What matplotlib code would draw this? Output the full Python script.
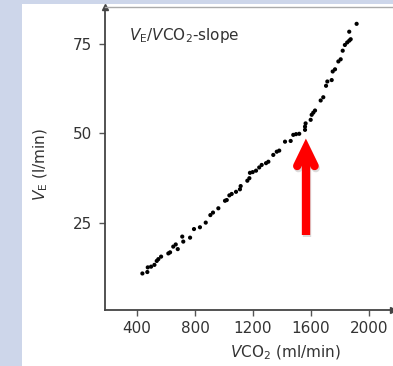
import matplotlib
matplotlib.use("Agg")
import matplotlib.pyplot as plt
from matplotlib.patches import Rectangle

# breath-by-breath ventilation vs CO2 output
vco2 = [437, 471, 474, 497, 520, 536, 547, 566, 616, 628, 650, 667, 681, 712, 719,
        766, 793, 834, 874, 906, 924, 961, 1007, 1019, 1037, 1053, 1083, 1110, 1115,
        1161, 1175, 1179, 1198, 1221, 1243, 1260, 1290, 1306, 1340, 1364, 1381, 1421,
        1460, 1478, 1497, 1519, 1559, 1559, 1563, 1598, 1605, 1616, 1628, 1667, 1685,
        1704, 1713, 1743, 1750, 1766, 1789, 1805, 1819, 1834, 1850, 1864, 1874, 1864,
        1915]
ve = [10.9, 11.3, 12.6, 12.8, 13.3, 14.4, 14.9, 15.6, 16.5, 16.8, 18.4, 19.0, 17.7,
      21.2, 19.8, 20.9, 23.3, 23.8, 25.1, 27.2, 27.9, 29.1, 31.2, 31.4, 32.7, 33.1,
      33.7, 34.4, 35.3, 36.8, 37.5, 39.0, 39.2, 39.6, 40.5, 41.2, 41.7, 42.1, 44.0,
      44.9, 45.2, 47.7, 47.9, 49.6, 49.8, 49.9, 51.0, 51.9, 52.8, 53.8, 55.2, 55.8,
      56.4, 59.2, 60.1, 63.3, 64.5, 64.9, 67.3, 67.9, 70.1, 70.7, 73.1, 74.7, 75.4,
      75.9, 76.3, 78.4, 80.6]

x_ticks = [400, 800, 1200, 1600, 2000]
y_ticks = [25, 50, 75]

# breakpoint arrow: x position, tip and tail heights
thr_x = 1565
thr_tip, thr_tail = 45.9, 21.6

plt.rcParams.update({
    "font.family": "DejaVu Sans",
    "mathtext.fontset": "dejavusans",
})

fig = plt.figure(figsize=(3.93, 3.66), dpi=100)
fig.patch.set_facecolor("#cdd6ea")
fig.patches.append(Rectangle((22 / 393, 0), 1, 1 - 4 / 366, transform=fig.transFigure,
                             facecolor="white", edgecolor="none", zorder=-10))

ax = fig.add_axes([105 / 393, 1 - 310 / 366, 288 / 393, 303 / 366])
ax.set_facecolor("none")
ax.scatter(vco2, ve, s=9, color="black", edgecolors="none", zorder=3)

ax.set_xlim(179, 2166)
ax.set_ylim(0.7, 85.3)
ax.set_xticks(x_ticks)
ax.set_yticks(y_ticks)
ax.tick_params(direction="out", length=4, width=1, color="#555555",
               labelcolor="#333333", labelsize=11)
ax.tick_params(axis="y", pad=5)
ax.tick_params(axis="x", pad=4)

for side in ("left", "bottom"):
    ax.spines[side].set_color("#444444")
    ax.spines[side].set_linewidth(1.3)
ax.spines["top"].set_color("#aaaaaa")
ax.spines["top"].set_linewidth(1.0)
ax.spines["right"].set_visible(False)

# small arrowheads at the axis ends
ax.plot(0, 1, marker="^", ms=4, color="#444444", transform=ax.transAxes, clip_on=False)
ax.plot(1, 0, marker=">", ms=4, color="#444444", transform=ax.transAxes, clip_on=False)

ax.set_xlabel(r"$\it{V}$CO$_2$ (ml/min)", fontsize=11, color="#333333")
ax.xaxis.set_label_coords(0.625, -0.11)
ax.set_ylabel(r"$\it{V}_{\rm E}$ (l/min)", fontsize=11, color="#333333")
ax.yaxis.set_label_coords(-0.19, 0.479)

ax.text(0.085, 0.905, r"$\it{V}_{\rm E}/\it{V}$CO$_2$-slope", transform=ax.transAxes,
        fontsize=11, color="#333333", ha="left", va="center")

# red arrow: thick shaft plus a chevron head with rounded corners
head_dx, head_dy = 60, 5.0


def draw_arrow(x0, color, alpha=1.0, dy=0.0, z=4):
    ax.plot([x0, x0], [thr_tail + dy, thr_tip + dy - 1.0], color=color, lw=6,
            solid_capstyle="butt", alpha=alpha, zorder=z)
    ax.plot([x0 - head_dx, x0, x0 + head_dx],
            [thr_tip + dy - head_dy, thr_tip + dy, thr_tip + dy - head_dy],
            color=color, lw=6, solid_capstyle="round", solid_joinstyle="miter",
            alpha=alpha, zorder=z)


draw_arrow(thr_x + 8, "#888888", alpha=0.3, dy=-0.6, z=3)
draw_arrow(thr_x, "#ff0000")

fig.savefig("out.png", dpi=100, facecolor=fig.get_facecolor())
